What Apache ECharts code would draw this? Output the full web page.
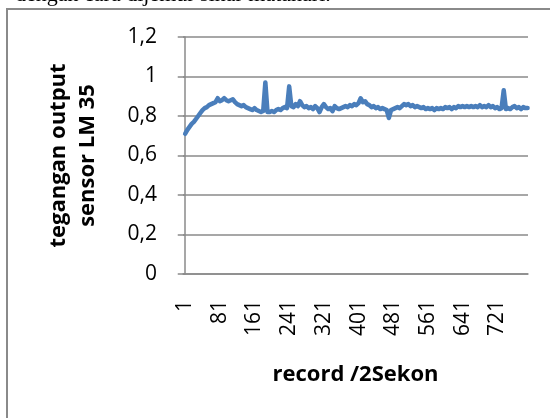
<!DOCTYPE html>
<html>
<head>
<meta charset="utf-8">
<script src="https://cdn.jsdelivr.net/npm/echarts@6/dist/echarts.min.js"></script>
<style>
html,body{margin:0;padding:0;background:#fff;}
#c{width:550px;height:418px;}
</style>
</head>
<body>
<div id="c"></div>
<script>
// record numbers (sampled every 5 records)
const records = [1,6,11,16,21,26,31,36,41,46,51,56,61,66,71,76,81,86,91,96,101,106,111,116,121,126,131,136,141,146,151,156,161,166,171,176,181,186,191,196,201,206,211,216,221,226,231,236,241,246,251,256,261,266,271,276,281,286,291,296,301,306,311,316,321,326,331,336,341,346,351,356,361,366,371,376,381,386,391,396,401,406,411,416,421,426,431,436,441,446,451,456,461,466,471,476,481,486,491,496,501,506,511,516,521,526,531,536,541,546,551,556,561,566,571,576,581,586,591,596,601,606,611,616,621,626,631,636,641,646,651,656,661,666,671,676,681,686,691,696,701,706,711,716,721,726,731,736,741,746,751,756,761,766,771,776,781,786,791];
// sensor output voltage (V)
const voltage = [0.71,0.73,0.745,0.76,0.77,0.785,0.80,0.815,0.83,0.84,0.845,0.855,0.86,0.865,0.87,0.89,0.875,0.88,0.89,0.88,0.875,0.88,0.885,0.87,0.86,0.855,0.85,0.855,0.845,0.84,0.835,0.83,0.84,0.83,0.825,0.82,0.825,0.97,0.82,0.82,0.825,0.82,0.83,0.835,0.83,0.84,0.845,0.84,0.95,0.85,0.845,0.86,0.85,0.875,0.855,0.845,0.85,0.84,0.845,0.835,0.85,0.84,0.82,0.845,0.86,0.845,0.835,0.84,0.825,0.85,0.84,0.835,0.84,0.845,0.85,0.845,0.855,0.85,0.86,0.855,0.865,0.89,0.87,0.875,0.86,0.855,0.845,0.85,0.84,0.845,0.835,0.84,0.835,0.83,0.79,0.83,0.835,0.84,0.845,0.84,0.85,0.86,0.855,0.86,0.85,0.855,0.845,0.85,0.845,0.84,0.845,0.835,0.84,0.835,0.84,0.83,0.84,0.835,0.84,0.835,0.845,0.84,0.845,0.835,0.845,0.84,0.85,0.845,0.85,0.845,0.85,0.845,0.85,0.845,0.85,0.845,0.855,0.845,0.85,0.845,0.855,0.845,0.85,0.84,0.845,0.835,0.84,0.93,0.835,0.84,0.835,0.845,0.85,0.84,0.845,0.835,0.845,0.84,0.84];
// x tick labels
const xTickLabels = [1,81,161,241,321,401,481,561,641,721];

const yTitle = 'tegangan output\nsensor LM 35';
const xTitle = 'record /2Sekon';
const topText = 'dengan cara dijemur sinar matahari.';

const seriesData = records.map((r, i) => [r, voltage[i]]);
const fmt = v => String(Math.round(v * 10) / 10).replace('.', ',');
const FONT = '"Open Sans", "Noto Sans", sans-serif';
const GRAY = '#8a8a8a';

const chart = echarts.init(document.getElementById('c'), null, {renderer: 'canvas'});
chart.setOption({
  animation: false,
  backgroundColor: '#fff',
  graphic: [
    {type: 'rect', shape: {x: 7, y: 9, width: 620, height: 500}, style: {fill: 'none', stroke: GRAY, lineWidth: 2}, z: -1},
    {type: 'text', x: 15, y: -4.5, style: {text: topText, font: '22px "Liberation Serif", serif', fill: '#000', verticalAlign: 'middle', align: 'left'}}
  ],
  grid: {left: 183, right: 22, top: 37, bottom: 144, containLabel: false},
  xAxis: {
    type: 'value', min: -4, max: 792,
    axisLine: {show: true, onZero: false, lineStyle: {color: GRAY, width: 1.5}},
    axisTick: {show: false},
    splitLine: {show: false},
    axisLabel: {customValues: xTickLabels, rotate: 90, margin: 26, color: '#000', fontSize: 21, fontFamily: FONT},
    name: xTitle, nameLocation: 'middle', nameGap: 90,
    nameTextStyle: {color: '#000', fontSize: 22, fontWeight: 'bold', fontFamily: FONT}
  },
  yAxis: {
    type: 'value', min: 0, max: 1.2, interval: 0.2,
    axisLine: {show: true, lineStyle: {color: GRAY, width: 1.5}},
    axisTick: {show: true, inside: false, length: 7, lineStyle: {color: GRAY, width: 1.5}},
    splitLine: {show: true, lineStyle: {color: GRAY, width: 1.5}},
    axisLabel: {formatter: fmt, margin: 26, color: '#000', fontSize: 21, fontFamily: FONT},
    name: yTitle, nameLocation: 'middle', nameRotate: 90, nameGap: 81,
    nameTextStyle: {color: '#000', fontSize: 22, fontWeight: 'bold', fontFamily: FONT, lineHeight: 29, align: 'center'}
  },
  series: [{
    type: 'line', data: seriesData, showSymbol: false, symbol: 'none',
    lineStyle: {color: '#4a7ebb', width: 4.5, cap: 'round', join: 'round'},
    z: 3
  }]
});
</script>
</body>
</html>
